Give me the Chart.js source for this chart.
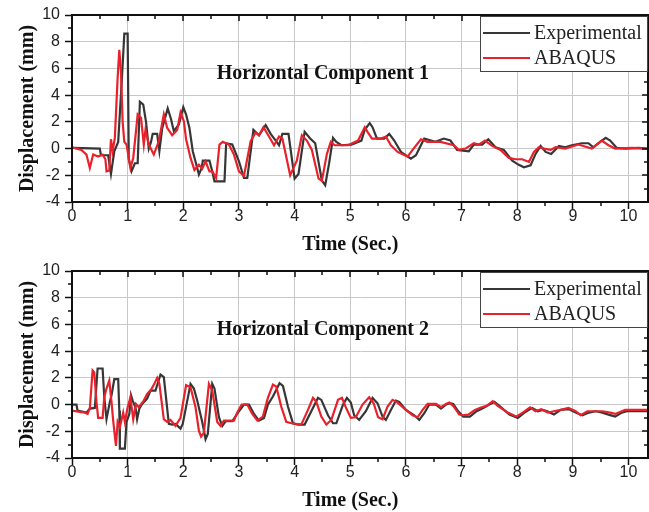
<!DOCTYPE html>
<html>
<head>
<meta charset="utf-8">
<script src="https://cdn.jsdelivr.net/npm/chart.js@4.4.0/dist/chart.umd.min.js"></script>
<style>
  body { margin: 0; background: #fff; }
  .panel { position: absolute; left: 0; width: 649px; height: 256px; }
</style>
</head>
<body>
<div class="panel" style="top:0"><canvas id="c1" width="649" height="256"></canvas></div>
<div class="panel" style="top:256px"><canvas id="c2" width="649" height="256"></canvas></div>
<script>
// ---- data (time in s, displacement in mm) ----
const seriesLabels = ['Experimental', 'ABAQUS']
const panelTitles = ['Horizontal Component 1', 'Horizontal Component 2']

// Horizontal component 1
const h1ExpT = [0, 0.5, 0.52, 0.65, 0.7, 0.76, 0.83, 0.9, 0.94, 1.0, 1.02, 1.07, 1.13, 1.18, 1.22, 1.28, 1.33, 1.38, 1.42, 1.45, 1.53, 1.57, 1.62, 1.72, 1.78, 1.83, 1.92, 2.0, 2.05, 2.11, 2.17, 2.25, 2.28, 2.33, 2.35, 2.47, 2.52, 2.56, 2.74, 2.77, 2.88, 3.0, 3.09, 3.15, 3.26, 3.36, 3.48, 3.57, 3.66, 3.72, 3.78, 3.89, 4.0, 4.07, 4.18, 4.28, 4.37, 4.49, 4.55, 4.62, 4.69, 4.75, 4.84, 5.02, 5.2, 5.26, 5.35, 5.4, 5.48, 5.61, 5.7, 5.79, 5.91, 6.09, 6.18, 6.33, 6.45, 6.53, 6.68, 6.8, 6.92, 7.13, 7.22, 7.37, 7.48, 7.61, 7.76, 7.91, 8.02, 8.12, 8.24, 8.33, 8.42, 8.51, 8.61, 8.75, 8.86, 8.98, 9.16, 9.28, 9.37, 9.46, 9.59, 9.67, 9.79, 9.94, 10.18, 10.37]
const h1ExpD = [0.05, 0, -0.5, -0.5, -1.9, -0.2, 0.5, 5.5, 8.6, 8.6, -0.8, -1.7, -1.1, -1.1, 3.5, 3.3, 2.0, 0, 0.5, 1.1, 1.1, -0.2, 1.5, 3.0, 2.2, 1.3, 1.8, 3.1, 2.55, 1.55, -0.2, -1.45, -1.95, -1.45, -0.9, -0.9, -1.7, -2.45, -2.45, 0.4, 0.3, -0.95, -2.2, -2.2, 1.4, 1.0, 1.75, 1.1, 0.6, 0.25, 1.1, 1.1, -2.25, -1.9, 1.25, 0.75, 0.4, -2.4, -2.75, -1.1, 0.8, 0.5, 0.25, 0.3, 0.6, 1.4, 1.9, 1.6, 0.75, 0.75, 1.1, 0.6, -0.25, -0.75, -0.5, 0.75, 0.6, 0.5, 0.75, 0.6, -0.1, -0.2, 0.3, 0.3, 0.7, 0.1, -0.1, -0.9, -1.2, -1.4, -1.25, -0.4, 0.2, -0.25, -0.4, 0.2, 0.1, 0.25, 0.4, 0.4, 0.1, 0.4, 0.8, 0.6, 0.05, 0, 0.05, 0]
const h1AbaT = [0, 0.17, 0.26, 0.32, 0.38, 0.47, 0.55, 0.6, 0.62, 0.67, 0.7, 0.73, 0.77, 0.82, 0.85, 0.88, 0.91, 0.94, 0.98, 1.05, 1.1, 1.15, 1.18, 1.24, 1.29, 1.32, 1.38, 1.47, 1.56, 1.65, 1.71, 1.8, 1.89, 1.95, 2.01, 2.05, 2.13, 2.2, 2.28, 2.34, 2.4, 2.47, 2.52, 2.59, 2.65, 2.71, 2.82, 2.91, 3.0, 3.09, 3.21, 3.3, 3.36, 3.44, 3.54, 3.63, 3.72, 3.78, 3.92, 4.04, 4.13, 4.22, 4.31, 4.43, 4.49, 4.58, 4.65, 4.72, 4.96, 5.14, 5.26, 5.31, 5.39, 5.55, 5.64, 5.73, 5.85, 6.03, 6.12, 6.27, 6.39, 6.62, 6.86, 6.95, 7.07, 7.22, 7.31, 7.42, 7.55, 7.7, 7.85, 7.97, 8.09, 8.21, 8.3, 8.39, 8.48, 8.6, 8.69, 8.86, 9.1, 9.34, 9.52, 9.64, 9.76, 10.06, 10.37]
const h1AbaD = [0.1, -0.1, -0.45, -1.45, -0.45, -0.6, -0.45, -0.8, -1.7, -1.65, 0.7, -0.2, 0.8, 5.3, 7.4, 5.8, 2.0, 0.5, 0.3, -1.45, -0.7, 1.3, 2.55, 2.3, 0.3, 1.4, 0.3, -0.45, 0.55, 2.55, 1.55, 1.0, 1.4, 2.7, 2.05, 0.7, -0.7, -1.6, -1.2, -1.5, -0.95, -1.7, -1.7, -2.2, 0.3, 0.5, 0.3, -0.45, -1.7, -2.05, 0.55, 1.2, 1.0, 1.6, 0.9, 0.25, 0.9, 0.75, -2.0, -0.9, 1.0, 0.6, -0.1, -2.25, -2.4, -0.4, 0.5, 0.25, 0.25, 0.6, 1.6, 1.25, 0.75, 0.75, 0.9, 0.25, -0.25, -0.6, -0.1, 0.7, 0.5, 0.5, 0.25, -0.1, 0, 0.4, 0.3, 0.6, 0.2, -0.1, -0.7, -0.8, -0.8, -1.0, -0.25, 0.1, 0, -0.1, 0.1, 0, 0.3, 0, 0.6, 0.25, 0, 0.05, 0]

// Horizontal component 2
const h2ExpT = [0, 0.08, 0.1, 0.26, 0.32, 0.41, 0.46, 0.55, 0.58, 0.62, 0.68, 0.71, 0.76, 0.83, 0.85, 0.86, 0.95, 0.98, 1.03, 1.06, 1.09, 1.14, 1.17, 1.21, 1.26, 1.35, 1.41, 1.5, 1.59, 1.65, 1.74, 1.8, 1.86, 1.95, 1.99, 2.13, 2.19, 2.25, 2.34, 2.4, 2.44, 2.52, 2.56, 2.64, 2.7, 2.76, 2.88, 3.0, 3.09, 3.18, 3.27, 3.36, 3.45, 3.52, 3.61, 3.73, 3.79, 3.88, 3.97, 4.06, 4.18, 4.3, 4.42, 4.48, 4.6, 4.69, 4.75, 4.87, 4.94, 5.01, 5.07, 5.16, 5.28, 5.4, 5.49, 5.58, 5.64, 5.73, 5.82, 5.88, 6.0, 6.15, 6.24, 6.33, 6.42, 6.54, 6.63, 6.72, 6.79, 6.85, 6.94, 7.03, 7.15, 7.27, 7.39, 7.5, 7.59, 7.68, 7.86, 8.01, 8.13, 8.27, 8.37, 8.46, 8.54, 8.66, 8.78, 8.93, 9.05, 9.17, 9.29, 9.41, 9.53, 9.64, 9.76, 9.88, 9.97, 10.37]
const h2ExpD = [0, 0, -0.45, -0.6, -0.3, -0.25, 2.7, 2.7, 0.55, -1.1, 0.2, 0.7, 1.9, 1.9, -0.45, -3.3, -3.3, -1.3, -0.7, 0.7, 0.3, -0.2, -1.1, -0.3, 0.05, 0.45, 1.05, 1.05, 2.25, 2.05, -1.45, -1.5, -1.45, -1.8, -1.45, 1.55, 1.2, 0.3, -1.3, -2.6, -2.2, 1.55, 1.2, -0.95, -1.6, -1.25, -1.25, -0.5, 0, 0, -0.7, -1.2, -1.0, 0, 0.6, 1.6, 1.4, -0.15, -1.4, -1.5, -1.5, -0.5, 0.5, 0.35, -0.8, -1.4, -1.4, 0, 0.5, 0.15, -0.8, -1.15, -0.5, 0.5, 0.1, -0.9, -1.15, -0.4, 0.3, 0.2, -0.4, -0.8, -1.15, -0.65, 0, 0, -0.3, 0, 0.1, 0.05, -0.5, -0.9, -0.9, -0.5, -0.25, 0, 0.2, -0.1, -0.75, -1.0, -0.6, -0.25, -0.5, -0.4, -0.5, -0.75, -0.4, -0.35, -0.6, -0.8, -0.6, -0.5, -0.6, -0.75, -0.9, -0.6, -0.5, -0.5]
const h2AbaT = [0, 0.23, 0.28, 0.32, 0.37, 0.4, 0.44, 0.47, 0.55, 0.58, 0.62, 0.67, 0.71, 0.74, 0.79, 0.82, 0.86, 0.92, 0.95, 1.0, 1.05, 1.1, 1.15, 1.2, 1.29, 1.35, 1.42, 1.48, 1.53, 1.57, 1.65, 1.71, 1.77, 1.86, 1.95, 2.05, 2.13, 2.22, 2.28, 2.32, 2.37, 2.46, 2.52, 2.61, 2.67, 2.73, 2.91, 2.97, 3.05, 3.15, 3.24, 3.33, 3.43, 3.52, 3.61, 3.67, 3.76, 3.85, 3.94, 4.12, 4.24, 4.33, 4.39, 4.48, 4.57, 4.66, 4.78, 4.85, 4.93, 5.01, 5.1, 5.22, 5.34, 5.42, 5.5, 5.58, 5.67, 5.76, 5.85, 6.0, 6.12, 6.21, 6.3, 6.39, 6.54, 6.63, 6.72, 6.78, 6.85, 6.96, 7.03, 7.12, 7.24, 7.36, 7.45, 7.56, 7.65, 7.83, 7.98, 8.1, 8.23, 8.33, 8.43, 8.55, 8.66, 8.78, 8.92, 9.05, 9.14, 9.26, 9.53, 9.67, 9.76, 9.94, 10.37]
const h2AbaD = [-0.45, -0.6, -0.7, -0.3, 2.55, 2.4, 0.2, -1.0, -1.0, 0.55, 1.2, 1.8, 0.2, -1.2, -3.1, -1.3, -1.7, -0.6, -1.3, -0.2, 0.55, -1.1, 0.05, -0.2, 0.3, 0.8, 1.1, 1.55, 2.0, 1.55, -1.1, -1.3, -1.15, -1.6, -1.0, 1.45, 1.3, -0.2, -1.95, -2.4, -2.1, 1.55, 1.05, -1.3, -1.6, -1.2, -1.2, -0.6, 0, 0, -0.7, -1.2, -0.9, 0.5, 1.5, 1.35, -0.15, -1.3, -1.4, -1.5, -0.4, 0.5, 0.2, -0.9, -1.5, -1.15, 0.35, 0.5, -0.3, -1.0, -0.95, 0, 0.55, 0.1, -0.95, -1.1, -0.15, 0.35, 0.15, -0.4, -0.8, -0.95, -0.4, 0.05, 0.05, -0.2, 0.05, 0.15, -0.1, -0.75, -0.8, -0.75, -0.4, -0.2, -0.1, 0.25, -0.1, -0.6, -0.9, -0.6, -0.2, -0.5, -0.35, -0.6, -0.5, -0.4, -0.25, -0.5, -0.8, -0.5, -0.5, -0.6, -0.7, -0.4, -0.4]

const xMin = 0, xMax = 10.35, xStep = 1
const yMin = -4, yMax = 10, yStep = 2

const serif = '"Liberation Serif", "Times New Roman", serif'
const sans = '"Liberation Sans", Arial, sans-serif'
const expColor = '#363636'
const abaColor = '#e8212b'

function pts(t, d) {
  return t.map((v, i) => ({ x: v, y: d[i] }))
}

// box, minor ticks and mirrored ticks round the plot
const framePlugin = {
  id: 'frame',
  afterDatasetsDraw(chart) {
    const { ctx, chartArea: a, scales: { x, y } } = chart
    ctx.save()
    ctx.strokeStyle = '#111'
    ctx.lineWidth = 1.5
    ctx.beginPath()
    for (let v = xMin; v <= xMax + 1e-9; v += 0.5) {
      const px = Math.round(x.getPixelForValue(v))
      const major = Math.abs(v - Math.round(v)) < 1e-9
      if (!major) { ctx.moveTo(px, a.bottom); ctx.lineTo(px, a.bottom + 4) }
      ctx.moveTo(px, a.top); ctx.lineTo(px, a.top + (major ? 6 : 4))
    }
    for (let v = yMin; v <= yMax; v += 1) {
      const py = Math.round(y.getPixelForValue(v))
      const major = v % 2 === 0
      if (!major) { ctx.moveTo(a.left, py); ctx.lineTo(a.left - 4, py) }
      ctx.moveTo(a.right, py); ctx.lineTo(a.right - (major ? 6 : 4), py)
    }
    ctx.stroke()
    ctx.lineWidth = 2
    ctx.strokeRect(a.left, a.top, a.right - a.left, a.bottom - a.top)
    ctx.restore()
  }
}

// boxed legend in the top right corner, panel caption, x axis title
const legendPlugin = {
  id: 'boxLegend',
  afterDraw(chart, args, opts) {
    const { ctx, chartArea: a, scales: { x, y } } = chart
    ctx.save()
    ctx.font = 'bold 20px ' + serif
    ctx.fillStyle = '#111'
    ctx.textBaseline = 'middle'
    ctx.fillText(opts.caption, x.getPixelForValue(2.6), y.getPixelForValue(5.6))
    ctx.textAlign = 'center'
    ctx.fillText(opts.xTitle, x.getPixelForValue(5), chart.height - 11)
    ctx.textAlign = 'left'

    const w = 167, h = 55
    const left = a.right - w - 1, top = a.top + 1
    ctx.fillStyle = '#fff'
    ctx.fillRect(left, top, w, h)
    ctx.strokeStyle = '#444'
    ctx.lineWidth = 1
    ctx.strokeRect(left + 0.5, top + 0.5, w, h)
    ctx.font = '20px ' + serif
    chart.data.datasets.forEach((ds, i) => {
      const yy = top + 17 + i * 25
      ctx.strokeStyle = ds.borderColor
      ctx.lineWidth = 2
      ctx.beginPath()
      ctx.moveTo(left + 3, yy)
      ctx.lineTo(left + 50, yy)
      ctx.stroke()
      ctx.fillStyle = '#222'
      ctx.fillText(ds.label, left + 54, yy + 1)
    })
    ctx.restore()
  }
}

function makePanel(id, caption, expT, expD, abaT, abaD) {
  return new Chart(document.getElementById(id), {
    type: 'line',
    data: {
      datasets: [{
        label: seriesLabels[0],
        data: pts(expT, expD),
        borderColor: expColor,
        borderWidth: 2.2,
        pointRadius: 0,
        tension: 0,
        order: 2
      }, {
        label: seriesLabels[1],
        data: pts(abaT, abaD),
        borderColor: abaColor,
        borderWidth: 2.2,
        pointRadius: 0,
        tension: 0,
        order: 1
      }]
    },
    options: {
      responsive: false,
      animation: false,
      devicePixelRatio: 1,
      layout: { padding: { top: 15, right: 1, left: 0, bottom: 0 } },
      plugins: {
        legend: { display: false },
        tooltip: { enabled: false },
        boxLegend: { caption: caption, xTitle: 'Time (Sec.)' }
      },
      scales: {
        x: {
          type: 'linear',
          min: xMin,
          max: xMax,
          afterFit: s => { s.height = 54 },
          ticks: {
            stepSize: xStep,
            includeBounds: false,
            padding: -2,
            color: '#222',
            font: { family: sans, size: 16 }
          },
          grid: { color: '#c8c8c8', lineWidth: 1, tickColor: '#111', tickLength: 7, tickWidth: 1.5 },
          border: { color: '#111', width: 2 }
        },
        y: {
          min: yMin,
          max: yMax,
          afterFit: s => { s.width = 72 },
          ticks: {
            stepSize: yStep,
            padding: 5,
            color: '#222',
            font: { family: sans, size: 16 }
          },
          grid: { color: '#c8c8c8', lineWidth: 1, tickColor: '#111', tickLength: 7, tickWidth: 1.5 },
          border: { color: '#111', width: 2 },
          title: {
            display: true,
            text: 'Displacement (mm)',
            color: '#111',
            padding: { top: 16, bottom: 0 },
            font: { family: serif, size: 20, weight: 'bold', lineHeight: 1.2 }
          }
        }
      }
    },
    plugins: [framePlugin, legendPlugin]
  })
}

makePanel('c1', panelTitles[0], h1ExpT, h1ExpD, h1AbaT, h1AbaD)
makePanel('c2', panelTitles[1], h2ExpT, h2ExpD, h2AbaT, h2AbaD)
</script>
</body>
</html>
